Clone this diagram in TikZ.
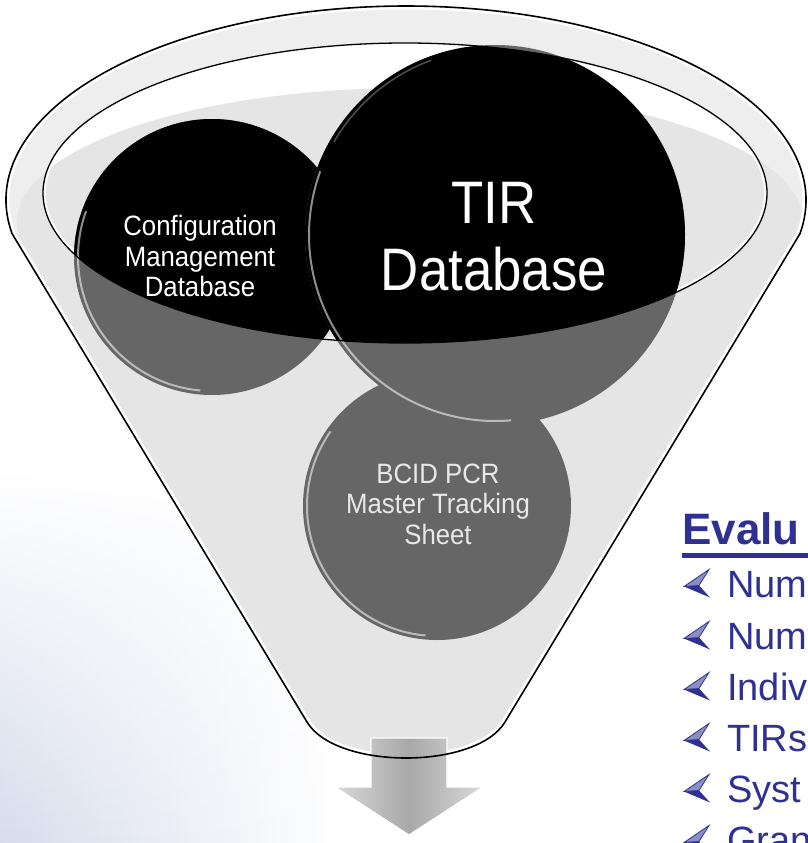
\documentclass[tikz,border=0pt]{standalone}
\usepackage{fontspec}
\setmainfont{Liberation Sans}
\newfontfamily\narrowsans[FakeStretch=0.88]{Liberation Sans}
\newfontfamily\semisans[FakeStretch=0.92]{Liberation Sans}
\usetikzlibrary{fadings}
\definecolor{evblue}{RGB}{46,49,146}
\definecolor{discgray}{RGB}{102,102,102}
\definecolor{bodygray}{RGB}{229,229,229}
\definecolor{rimgray}{RGB}{238,238,238}
\definecolor{haze}{RGB}{214,220,236}
\definecolor{bcidtext}{RGB}{232,232,232}
\tikzfading[name=fadeup, top color=transparent!100, bottom color=transparent!0]
\tikzset{
  disctext/.style={text=white, align=center, inner sep=0pt},
  gloss/.style={white, opacity=0.55, line width=2},
  bul/.pic={
    \fill[evblue] (0,0) -- (26,11) -- (15,-1) -- cycle;
    \filldraw[draw=evblue, fill=evblue!55, line width=0.8] (0,0) -- (25,-17) -- (15,-1) -- cycle;
  },
  itemtext/.style={anchor=base west, inner sep=0pt, text=evblue, font=\fontsize{38}{44}\selectfont}
}
\begin{document}
\begin{tikzpicture}[x=1pt,y=-1pt]
\useasboundingbox (0,0) rectangle (807,843);
\def\funnelpath{(12.1,233.7) arc (170:370:400 and 194) -- (505,722) .. controls (476,770) and (336,770) .. (307,722) -- cycle}
\def\ringpath{(405,193) ellipse (362 and 150)}

% background haze
\shade[left color=haze, right color=white, path fading=fadeup] (0,470) rectangle (340,843);

% funnel body
\fill[bodygray] \funnelpath;
\begin{scope}
  \clip \funnelpath;
  \fill[rimgray] (12.1,233.7) arc (170:370:400 and 194) -- cycle;
  \fill[white] \ringpath;
  \fill[bodygray] (410,222) ellipse (393 and 134);
  \draw[white, line width=7] \funnelpath;
\end{scope}
\begin{scope}
  \clip \ringpath;
  \draw[white, opacity=0.8, line width=6] \ringpath;
\end{scope}

% arrow
\shade[left color=gray!30, right color=gray!30, middle color=gray!68, draw=white, line width=1.2]
  (371,738) -- (447,738) -- (447,787) -- (483,787) -- (409,835) -- (335,787) -- (371,787) -- cycle;

% BCID disc
\fill[discgray] (437,506) circle (134);
\draw[gloss] (437,506) ++(95:130) arc (95:215:130);
% configuration disc
\fill[discgray] (212,257) circle (138);
\begin{scope}
  \clip \ringpath;
  \fill[black] (212,257) circle (138);
\end{scope}
\draw[gloss] (212,257) ++(95:134) arc (95:200:134);
% TIR disc
\fill[discgray] (495,235) circle (190);
\begin{scope}
  \clip \ringpath;
  \fill[black] (495,235) circle (190);
\end{scope}
\draw[gloss] (495,235) ++(85:186) arc (85:200:186);
\draw[white, opacity=0.3, line width=1.5] (495,235) ++(210:186) arc (210:250:186);

% outlines
\draw[black, line width=1.3] \ringpath;
\draw[black, line width=1.6] \funnelpath;

% disc texts
\node[disctext, font=\semisans\fontsize{28}{30.5}\selectfont] (cfgtext) at (200,256) {Configuration\\Management\\Database};
\node[disctext, font=\narrowsans\fontsize{60}{67}\selectfont] (tirtext) at (494,237) {TIR\\Database};
\node[disctext, text=bcidtext, font=\semisans\fontsize{28}{30.5}\selectfont] (bcidtext) at (438,504) {BCID PCR\\Master Tracking\\Sheet};

% evaluation list
\node[anchor=base west, inner sep=0pt, text=evblue, font=\bfseries\fontsize{44}{50}\selectfont] (evalhead) at (682,544) {Evalu};
\fill[evblue] (evalhead.base west) ++(0,9) rectangle ++(126,4.5);
\foreach \yy/\tt [count=\i] in {597/Num,649/Num,700/Indiv,751/TIRs,802/Syst,853/Gran}{
  \node[itemtext] (item\i) at (727,\yy) {\tt};
  \pic at (684,\yy-10.5) {bul};
}
\end{tikzpicture}
\end{document}
